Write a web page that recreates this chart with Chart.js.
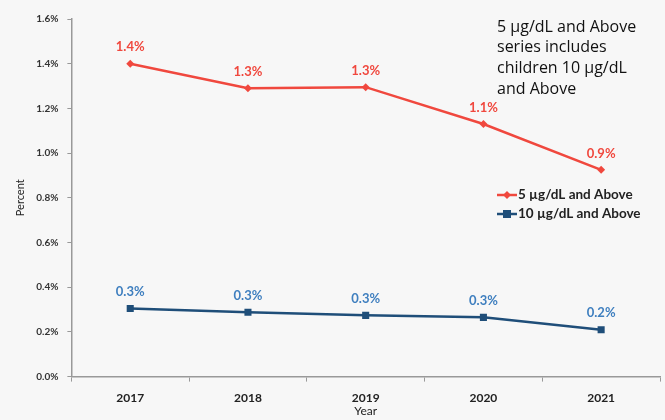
<!DOCTYPE html>
<html>
<head>
<meta charset="utf-8">
<script src="https://cdn.jsdelivr.net/npm/chart.js@4"></script>
<style>
  html, body { margin: 0; padding: 0; background: #f7f7f7; }
  #wrap { width: 665px; height: 420px; }
</style>
</head>
<body>
<div id="wrap"><canvas id="chart" width="665" height="420"></canvas></div>
<script>
// données
const years = ["2017", "2018", "2019", "2020", "2021"];
const above5 = [1.40, 1.29, 1.295, 1.13, 0.925];
const above10 = [0.305, 0.288, 0.274, 0.265, 0.21];
const labels5 = ["1.4%", "1.3%", "1.3%", "1.1%", "0.9%"];
const labels10 = ["0.3%", "0.3%", "0.3%", "0.3%", "0.2%"];
const noteLines = ["5 µg/dL and Above", "series includes", "children 10 µg/dL", "and Above"];

const red = "#f0483e";
const navy = "#1f4e79";
const fontFam = "Lato, 'Open Sans', sans-serif";

// étiquettes de valeurs, note, légende et titre de l'axe x
const extras = {
  id: "extras",
  afterDatasetsDraw(chart) {
    const ctx = chart.ctx;
    ctx.save();
    ctx.textAlign = "center";
    ctx.textBaseline = "bottom";
    ctx.font = "bold 13px " + fontFam;
    const sets = [[0, labels5, red], [1, labels10, "#3f7fbf"]];
    sets.forEach(([i, txt, col]) => {
      const meta = chart.getDatasetMeta(i);
      ctx.fillStyle = col;
      meta.data.forEach((pt, j) => {
        ctx.fillText(txt[j], pt.x, pt.y - 10);
      });
    });

    // titre axe x
    ctx.textBaseline = "middle";
    ctx.fillStyle = "#222";
    ctx.font = "12px " + fontFam;
    const xa = chart.scales.x;
    ctx.fillText("Year", (xa.left + xa.right) / 2, 411);

    // note en haut à droite
    ctx.textAlign = "left";
    ctx.fillStyle = "#111";
    ctx.font = "16px 'Open Sans', sans-serif";
    noteLines.forEach((l, k) => ctx.fillText(l, 497, 27 + k * 20.7));

    // légende
    const leg = [[chart.data.datasets[0], 195], [chart.data.datasets[1], 214]];
    ctx.font = "bold 13.5px " + fontFam;
    leg.forEach(([ds, y]) => {
      ctx.strokeStyle = ds.borderColor;
      ctx.fillStyle = ds.borderColor;
      ctx.lineWidth = 2.5;
      ctx.beginPath();
      ctx.moveTo(497, y);
      ctx.lineTo(517, y);
      ctx.stroke();
      if (ds.pointStyle === "rect") {
        ctx.fillRect(503, y - 4, 8, 8);
      } else {
        ctx.beginPath();
        ctx.moveTo(507, y - 4);
        ctx.lineTo(511, y);
        ctx.lineTo(507, y + 4);
        ctx.lineTo(503, y);
        ctx.closePath();
        ctx.fill();
      }
      ctx.fillStyle = "#222";
      ctx.fillText(ds.label, 518, y);
    });
    ctx.restore();
  },
};

new Chart(document.getElementById("chart"), {
  type: "line",
  data: {
    labels: years,
    datasets: [
      {
        label: "5 µg/dL and Above",
        data: above5,
        borderColor: red,
        backgroundColor: red,
        borderWidth: 2.5,
        pointStyle: "rectRot",
        pointRadius: 4,
        pointBorderWidth: 0,
        tension: 0,
      },
      {
        label: "10 µg/dL and Above",
        data: above10,
        borderColor: navy,
        backgroundColor: navy,
        borderWidth: 2.5,
        pointStyle: "rect",
        pointRadius: 5,
        pointBorderWidth: 0,
        tension: 0,
      },
    ],
  },
  options: {
    responsive: false,
    animation: false,
    layout: { padding: { top: 19, right: 2, bottom: 6, left: 14 } },
    plugins: {
      legend: { display: false },
      tooltip: { enabled: false },
    },
    scales: {
      x: {
        offset: true,
        grid: {
          offset: true,
          drawOnChartArea: false,
          drawTicks: true,
          tickLength: 5,
          color: "#999",
        },
        border: { color: "#999", width: 1.5 },
        ticks: {
          color: "#222",
          font: { family: fontFam, size: 12, weight: "bold" },
          padding: 9,
        },
      },
      y: {
        min: 0,
        max: 1.6,
        ticks: {
          stepSize: 0.2,
          color: "#333",
          font: { family: fontFam, size: 10, weight: "bold" },
          padding: 9,
          callback: (v) => v.toFixed(1) + "%",
        },
        grid: {
          drawOnChartArea: false,
          drawTicks: true,
          tickLength: 4,
          color: "#999",
        },
        border: { color: "#999", width: 1.5 },
        title: {
          display: true,
          text: "Percent",
          color: "#222",
          font: { family: fontFam, size: 11 },
          padding: { top: 0, bottom: 0 },
        },
      },
    },
  },
  plugins: [extras],
});
</script>
</body>
</html>
